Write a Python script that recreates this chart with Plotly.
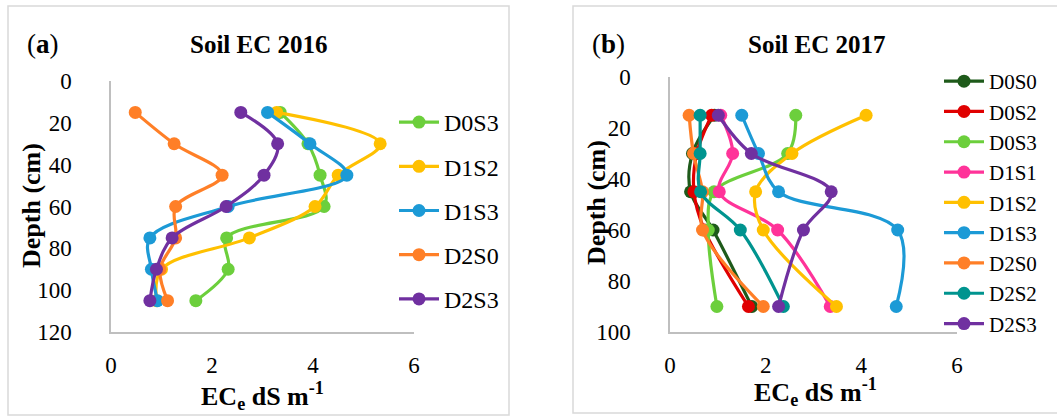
import plotly.graph_objects as go

# ---------------- data ----------------
depth_2016 = [15, 30, 45, 60, 75, 90, 105]
names_2016 = ["D0S3", "D1S2", "D1S3", "D2S0", "D2S3"]
ec_2016_D0S3 = [3.35, 3.90, 4.14, 4.22, 2.29, 2.32, 1.68]
ec_2016_D1S2 = [3.28, 5.33, 4.50, 4.04, 2.74, 1.00, 0.90]
ec_2016_D1S3 = [3.10, 3.94, 4.67, 2.32, 0.77, 0.80, 0.92]
ec_2016_D2S0 = [0.48, 1.25, 2.20, 1.28, 1.28, 0.97, 1.12]
ec_2016_D2S3 = [2.57, 3.30, 3.03, 2.28, 1.21, 0.90, 0.77]

depth_2017 = [15, 30, 45, 60, 90]
names_2017 = ["D0S0", "D0S2", "D0S3", "D1S1", "D1S2", "D1S3", "D2S0", "D2S2", "D2S3"]
ec_2017_D0S0 = [0.93, 0.47, 0.43, 0.90, 1.71]
ec_2017_D0S2 = [0.87, 0.56, 0.50, 0.72, 1.64]
ec_2017_D0S3 = [2.63, 2.46, 0.92, 0.80, 0.98]
ec_2017_D1S1 = [1.06, 1.31, 1.03, 2.25, 3.35]
ec_2017_D1S2 = [4.10, 2.55, 1.79, 1.95, 3.48]
ec_2017_D1S3 = [1.50, 1.85, 2.27, 4.76, 4.73]
ec_2017_D2S0 = [0.40, 0.49, 0.68, 0.68, 1.95]
ec_2017_D2S2 = [0.63, 0.63, 0.64, 1.47, 2.37]
ec_2017_D2S3 = [1.01, 1.70, 3.37, 2.79, 2.27]

x_ticks = [0, 2, 4, 6]
y_ticks_2016 = [0, 20, 40, 60, 80, 100, 120]
y_ticks_2017 = [0, 20, 40, 60, 80, 100]

colors = {
    "D0S0": "#1e5a1a", "D0S2": "#e00000", "D0S3": "#6ccf3c", "D1S1": "#ff3399",
    "D1S2": "#ffc000", "D1S3": "#1c9ad6", "D2S0": "#ff7f27", "D2S2": "#00948f",
    "D2S3": "#7030a0",
}

series_2016 = [ec_2016_D0S3, ec_2016_D1S2, ec_2016_D1S3, ec_2016_D2S0, ec_2016_D2S3]
series_2017 = [ec_2017_D0S0, ec_2017_D0S2, ec_2017_D0S3, ec_2017_D1S1, ec_2017_D1S2,
               ec_2017_D1S3, ec_2017_D2S0, ec_2017_D2S2, ec_2017_D2S3]

W, H = 1057, 418
FONT = "Liberation Serif"

def px(x):
    return x / W

def py(y):
    return 1 - y / H

fig = go.Figure()

for name, vals in zip(names_2016, series_2016):
    fig.add_trace(go.Scatter(
        x=vals, y=depth_2016, name=name, mode="lines+markers",
        line=dict(color=colors[name], width=3.2, shape="spline", smoothing=1),
        marker=dict(color=colors[name], size=13),
        xaxis="x", yaxis="y", legend="legend", legendgroup="a" + name,
    ))

for name, vals in zip(names_2017, series_2017):
    fig.add_trace(go.Scatter(
        x=vals, y=depth_2017, name=name, mode="lines+markers",
        line=dict(color=colors[name], width=3.2, shape="spline", smoothing=1),
        marker=dict(color=colors[name], size=13),
        xaxis="x2", yaxis="y2", legend="legend2",
    ))

axis_common = dict(
    showgrid=False, zeroline=False, showline=True, linecolor="#bfbfbf", linewidth=1.5,
    ticks="", tickfont=dict(family=FONT, size=23, color="#000"), automargin=False,
)

fig.update_layout(
    width=W, height=H,
    margin=dict(l=0, r=0, t=0, b=0, autoexpand=False),
    paper_bgcolor="white", plot_bgcolor="white",
    font=dict(family=FONT, color="#000"),
    xaxis=dict(domain=[px(111), px(414)], range=[0, 6], tickvals=x_ticks,
               anchor="y", ticklabelstandoff=12, **axis_common),
    yaxis=dict(domain=[py(332), py(81)], range=[120, 0], tickvals=y_ticks_2016,
               anchor="x", ticklabelstandoff=33, **axis_common),
    xaxis2=dict(domain=[px(670), px(957)], range=[0, 6], tickvals=x_ticks,
                anchor="y2", ticklabelstandoff=12, **axis_common),
    yaxis2=dict(domain=[py(332), py(77)], range=[100, 0], tickvals=y_ticks_2017,
                anchor="x2", ticklabelstandoff=33, **axis_common),
    legend=dict(x=px(394), y=py(100), xanchor="left", yanchor="top",
                font=dict(family=FONT, size=24, color="#000"),
                tracegroupgap=10, itemwidth=40, bgcolor="rgba(0,0,0,0)"),
    legend2=dict(x=px(939), y=py(61), xanchor="left", yanchor="top",
                 font=dict(family=FONT, size=21, color="#000"),
                 tracegroupgap=0, itemwidth=40, bgcolor="rgba(0,0,0,0)"),
    showlegend=True,
)

# panel frames
fig.add_shape(type="rect", xref="paper", yref="paper",
              x0=px(8), x1=px(509), y0=py(415), y1=py(6),
              line=dict(color="#d9d9d9", width=1.5), layer="below")
fig.add_shape(type="rect", xref="paper", yref="paper",
              x0=px(573), x1=px(1060), y0=py(413), y1=py(6),
              line=dict(color="#d9d9d9", width=1.5), layer="below")

annotations = [
    dict(text="(<b>a</b>)", x=px(25), y=py(44), xanchor="left", yanchor="middle",
         font=dict(family=FONT, size=27, color="#000")),
    dict(text="<b>Soil EC 2016</b>", x=px(259), y=py(44), xanchor="center", yanchor="middle",
         font=dict(family=FONT, size=25, color="#000")),
    dict(text="(<b>b</b>)", x=px(590), y=py(44), xanchor="left", yanchor="middle",
         font=dict(family=FONT, size=27, color="#000")),
    dict(text="<b>Soil EC 2017</b>", x=px(817), y=py(44), xanchor="center", yanchor="middle",
         font=dict(family=FONT, size=25, color="#000")),
    dict(text="<b>EC<sub>e</sub> dS m<sup>-1</sup></b>", x=px(262), y=py(396),
         xanchor="center", yanchor="middle", font=dict(family=FONT, size=26, color="#000")),
    dict(text="<b>EC<sub>e</sub> dS m<sup>-1</sup></b>", x=px(815), y=py(392),
         xanchor="center", yanchor="middle", font=dict(family=FONT, size=26, color="#000")),
    dict(text="<b>Depth (cm)</b>", x=px(31), y=py(206), textangle=-90,
         xanchor="center", yanchor="middle", font=dict(family=FONT, size=26, color="#000")),
    dict(text="<b>Depth (cm)</b>", x=px(596), y=py(203), textangle=-90,
         xanchor="center", yanchor="middle", font=dict(family=FONT, size=26, color="#000")),
]
for a in annotations:
    a.update(xref="paper", yref="paper", showarrow=False)
fig.update_layout(annotations=annotations)

fig.write_html(
    "out.html",
    config={"displayModeBar": False},
    post_script="document.body.style.margin='0';document.body.style.overflow='hidden';",
)
